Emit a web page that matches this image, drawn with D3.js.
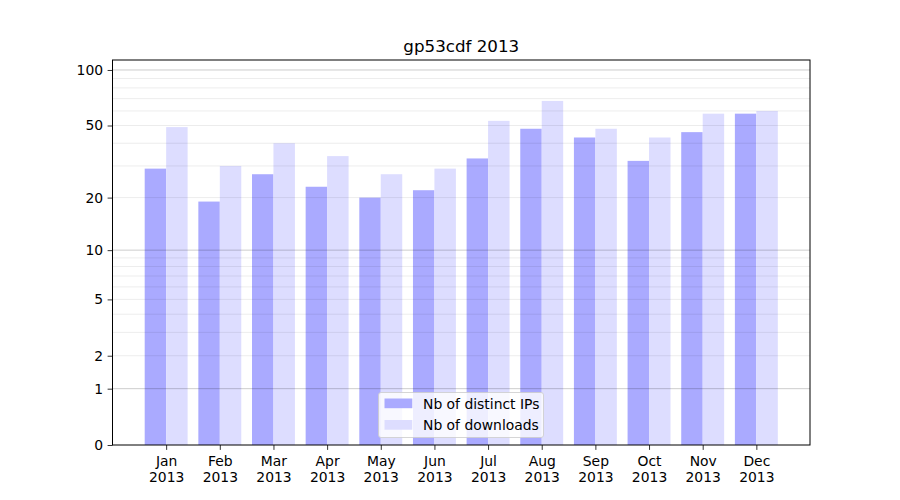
<!DOCTYPE html>
<html><head><meta charset="utf-8">
<script src="https://cdn.jsdelivr.net/npm/d3@7"></script>
<style>body{margin:0;background:#fff}svg{font-family:"DejaVu Sans",sans-serif}</style>
</head><body><svg id="c" width="900" height="500"></svg>
<script>
const months = ["Jan","Feb","Mar","Apr","May","Jun","Jul","Aug","Sep","Oct","Nov","Dec"];
const yearLabel = "2013";
const distinctIPs = [29,19,27,23,20,22,33,48,43,32,46,58];
const downloads   = [49,30,40,34,27,29,53,68,48,43,58,60];
const yTicks = [0,1,2,5,10,20,50,100];
const yMinor = [2,3,4,5,6,7,8,9,20,30,40,50,60,70,80,90];
const yMajor = [1,10,100];
const seriesNames = ["Nb of distinct IPs","Nb of downloads"];
const seriesColors = ["#aaaaff","#ddddff"];
const title = "gp53cdf 2013";

const svg = d3.select("#c");
const L=112.5, R=810, T=60, B=445;
const x = d3.scaleLinear().domain([-1,12]).range([L,R]);
const y = d3.scaleSymlog().constant(1).domain([0,113.2]).range([B,T]);
const bw = 0.4;
const fs = 13.9;

const g = svg.append("g");
// bars
[distinctIPs, downloads].forEach((vals,si)=>{
  g.selectAll(null).data(vals).enter().append("rect")
    .attr("x",(d,i)=>x(si===0? i-bw : i))
    .attr("width",x(bw)-x(0))
    .attr("y",d=>y(d))
    .attr("height",d=>B-y(d))
    .attr("fill",seriesColors[si]);
});
// grid
g.selectAll(null).data(yMinor).enter().append("line")
  .attr("x1",L).attr("x2",R).attr("y1",d=>y(d)).attr("y2",d=>y(d))
  .attr("stroke","#000").attr("stroke-opacity",0.075).attr("stroke-width",1);
g.selectAll(null).data(yMajor).enter().append("line")
  .attr("x1",L).attr("x2",R).attr("y1",d=>y(d)).attr("y2",d=>y(d))
  .attr("stroke","#000").attr("stroke-opacity",0.2).attr("stroke-width",1);

// axes
const yAxis = d3.axisLeft(y).tickValues(yTicks).tickFormat(d3.format("d")).tickSizeOuter(0).tickSize(4.9).tickPadding(4.5);
const ya = svg.append("g").attr("transform",`translate(${L},0)`).call(yAxis);
ya.select(".domain").remove();
ya.selectAll("text").attr("font-size",fs).attr("fill","#000").attr("font-family","DejaVu Sans");
ya.selectAll("line").attr("stroke","#000").attr("stroke-width",0.8);

const xAxis = d3.axisBottom(x).tickValues(d3.range(months.length)).tickFormat(()=>"" ).tickSizeOuter(0).tickSize(4.9);
const xa = svg.append("g").attr("transform",`translate(0,${B})`).call(xAxis);
xa.select(".domain").remove();
xa.selectAll("line").attr("stroke","#000").attr("stroke-width",0.8);
xa.selectAll(".tick").each(function(d,i){
  const t = d3.select(this).select("text").attr("font-size",fs).attr("fill","#000")
    .attr("font-family","DejaVu Sans").attr("y",null).attr("dy",null);
  t.append("tspan").attr("x",0).attr("y",21).text(months[i]);
  t.append("tspan").attr("x",0).attr("y",37).text(yearLabel);
});

// frame
svg.append("rect").attr("x",L).attr("y",T).attr("width",R-L).attr("height",B-T)
  .attr("fill","none").attr("stroke","#000").attr("stroke-width",1);

// title
svg.append("text").attr("x",(L+R)/2).attr("y",52).attr("text-anchor","middle")
  .attr("font-size",16.7).attr("fill","#000").text(title);

// legend
const lg = svg.append("g");
lg.append("rect").attr("x",378.5).attr("y",392.5).attr("width",165).attr("height",45).attr("rx",2.5)
  .attr("fill","#fff").attr("fill-opacity",0.8).attr("stroke","#ccc").attr("stroke-opacity",0.8).attr("stroke-width",1);
seriesNames.forEach((n,i)=>{
  lg.append("rect").attr("x",384.5).attr("y",398.5+i*21.5).attr("width",27.8).attr("height",9.7).attr("fill",seriesColors[i]);
  lg.append("text").attr("x",423).attr("y",408.5+i*21.5).attr("font-size",fs).attr("fill","#000").text(n);
});
</script></body></html>
